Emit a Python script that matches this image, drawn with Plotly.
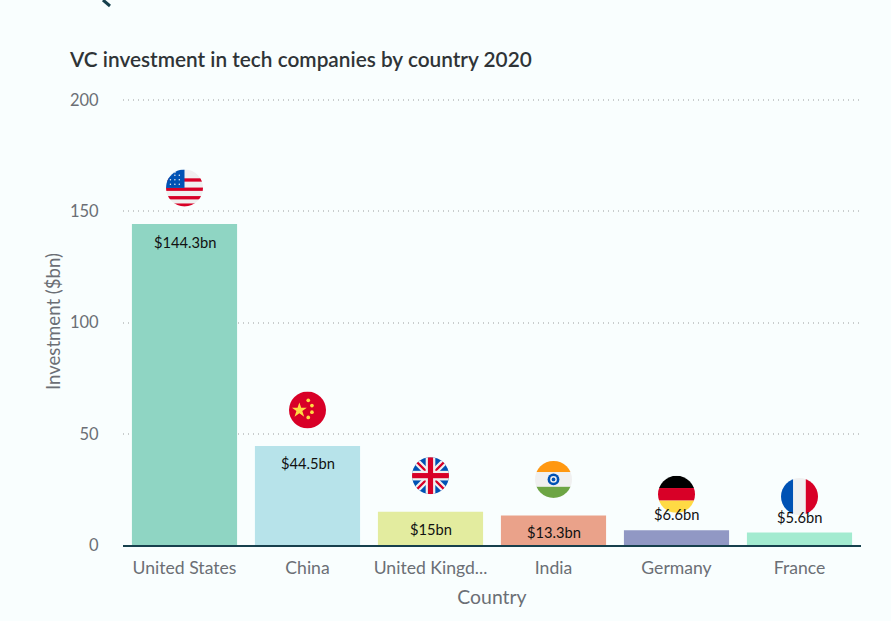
import base64
import plotly.graph_objects as go

countries = ["United States", "China", "United Kingdom", "India", "Germany", "France"]
tick_labels = ["United States", "China", "United Kingd...", "India", "Germany", "France"]
values = [144.3, 44.5, 15, 13.3, 6.6, 5.6]
labels = ["$144.3bn", "$44.5bn", "$15bn", "$13.3bn", "$6.6bn", "$5.6bn"]
colors = ["#8fd5c3", "#b7e3ea", "#e3ec9f", "#eaa28a", "#9198c4", "#a3ebd0"]
label_shift = [-18, -17, -17, -17, 16, 16]

FONT = "Lato"
BG = "#f9fefe"
W, H = 891, 621
L, R, T, B = 123, 30, 98, 76
PLOT_H = H - T - B
PLOT_W = W - L - R
PX_PER_UNIT = 445 / 200
Y_TOP = PLOT_H / PX_PER_UNIT

us_stars = "".join(
    f'<circle cx="{x}" cy="{y}" r="2" fill="#f0f0f0"/>'
    for x, y in [(12, 16), (24, 16), (36, 16), (12, 28), (24, 28), (36, 28), (12, 40), (24, 40), (36, 40), (24, 8)]
)
us = (
    '<rect width="100" height="100" fill="#f0f0f0"/>'
    + "".join(f'<rect y="{y}" width="100" height="9" fill="#d80027"/>' for y in [24, 49, 72, 92])
    + '<rect width="50" height="50" fill="#0052b4"/>' + us_stars
)
cn = (
    '<rect width="100" height="100" fill="#d80027"/>'
    '<polygon points="28,30 33,44 48,44 36,53 41,68 28,59 15,68 20,53 8,44 23,44" fill="#ffda44"/>'
    + "".join(f'<circle cx="{x}" cy="{y}" r="5" fill="#ffda44"/>' for x, y in [(52, 24), (62, 38), (62, 56), (52, 70)])
)
uk = (
    '<rect width="100" height="100" fill="#0052b4"/>'
    '<path d="M0,0 L100,100 M100,0 L0,100" stroke="#f0f0f0" stroke-width="18"/>'
    '<path d="M0,0 L100,100 M100,0 L0,100" stroke="#d80027" stroke-width="6"/>'
    '<rect x="37" width="26" height="100" fill="#f0f0f0"/><rect y="37" width="100" height="26" fill="#f0f0f0"/>'
    '<rect x="43" width="14" height="100" fill="#d80027"/><rect y="43" width="100" height="14" fill="#d80027"/>'
)
india = (
    '<rect width="100" height="100" fill="#f0f0f0"/>'
    '<rect width="100" height="30" fill="#ff9811"/>'
    '<rect y="70" width="100" height="30" fill="#6da544"/>'
    '<circle cx="50" cy="50" r="16" fill="#0052b4"/><circle cx="50" cy="50" r="9" fill="#f0f0f0"/>'
    '<circle cx="50" cy="50" r="5" fill="#0052b4"/>'
)
de = (
    '<rect width="100" height="33" fill="#000000"/>'
    '<rect y="33" width="100" height="34" fill="#d80027"/>'
    '<rect y="67" width="100" height="33" fill="#ffda44"/>'
)
fr = (
    '<rect width="33" height="100" fill="#0052b4"/>'
    '<rect x="33" width="34" height="100" fill="#f0f0f0"/>'
    '<rect x="67" width="33" height="100" fill="#d80027"/>'
)
flags = [us, cn, uk, india, de, fr]


def flag_uri(body):
    svg = (
        '<svg xmlns="http://www.w3.org/2000/svg" width="100" height="100" viewBox="0 0 100 100">'
        '<defs><clipPath id="c"><circle cx="50" cy="50" r="50"/></clipPath></defs>'
        f'<g clip-path="url(#c)">{body}</g></svg>'
    )
    return "data:image/svg+xml;base64," + base64.b64encode(svg.encode()).decode()


units_per_px = 1 / PX_PER_UNIT
cats_per_px = 6 / PLOT_W
flag_px = 37
flag_gap = 36

fig = go.Figure(
    go.Bar(x=countries, y=values, marker=dict(color=colors, line_width=0), width=0.855, showlegend=False)
)

for c, v, t, s in zip(countries, values, labels, label_shift):
    fig.add_annotation(
        x=c, y=v, xref="x", yref="y", text=t, showarrow=False, yshift=s,
        font=dict(family=FONT, size=14.7, color="#111111"),
    )

for i, (v, f) in enumerate(zip(values, flags)):
    fig.add_layout_image(
        source=flag_uri(f), xref="x", yref="y", x=i, y=v + flag_gap * units_per_px,
        sizex=flag_px * cats_per_px, sizey=flag_px * units_per_px,
        xanchor="center", yanchor="middle", sizing="stretch", layer="above",
    )

fig.add_shape(
    type="line", xref="paper", yref="paper", x0=-20 / PLOT_W, x1=-13 / PLOT_W,
    y0=1 + T / PLOT_H, y1=1 + (T - 6) / PLOT_H, line=dict(color="#17404d", width=3),
)

fig.update_layout(
    width=W, height=H,
    margin=dict(l=L, r=R, t=T, b=B, pad=0),
    paper_bgcolor=BG, plot_bgcolor=BG,
    font=dict(family=FONT, color="#6b6f75"),
    title=dict(
        text="VC investment in tech companies by country 2020",
        x=70 / W, xanchor="left", y=1 - 60 / H, yanchor="middle",
        font=dict(family=FONT, size=20.8, color="#2f3437", weight=600),
    ),
    bargap=0.145,
)
fig.update_xaxes(
    type="category", tickmode="array", tickvals=countries, ticktext=tick_labels,
    tickfont=dict(size=17.6, color="#6b6f75"), ticks="outside", ticklen=6, tickcolor="rgba(0,0,0,0)",
    showline=True, linecolor="#17404d", linewidth=1.5, showgrid=False,
    title=dict(text="Country", font=dict(size=19.4, color="#6b6f75"), standoff=14),
    range=[-0.5, 5.5],
)
fig.update_yaxes(
    range=[0, Y_TOP], tickvals=[0, 50, 100, 150, 200],
    tickfont=dict(size=16.5, color="#6b6f75"), ticks="outside", ticklen=20, tickcolor="rgba(0,0,0,0)",
    showgrid=True, gridcolor="#c9cdcd", griddash="1px,4px", gridwidth=1.5, zeroline=False,
    title=dict(text="Investment ($bn)", font=dict(size=18.6, color="#6b6f75"), standoff=4),
)

fig.write_html(
    "out.html",
    config=dict(displayModeBar=False),
    post_script="document.body.style.margin='0';document.body.style.overflow='hidden';",
)
